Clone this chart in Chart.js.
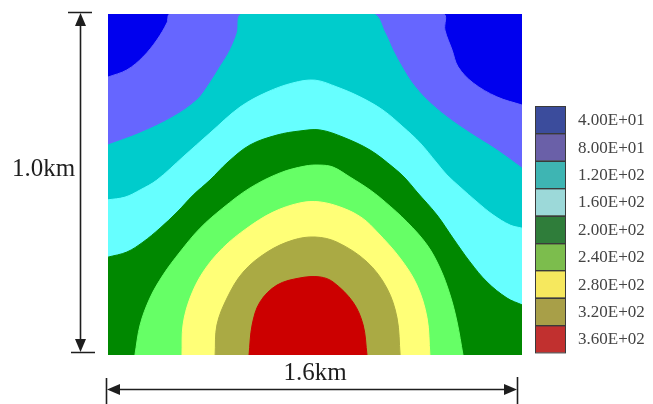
<!DOCTYPE html>
<html>
<head>
<meta charset="utf-8">
<title>Contour</title>
<script src="https://cdn.jsdelivr.net/npm/chart.js@4"></script>
<style>
  html, body { margin: 0; padding: 0; background: #fff; }
  #wrap { width: 653px; height: 404px; }
</style>
</head>
<body>
<div id="wrap"><canvas id="contour" width="653" height="404"></canvas></div>
<script>
// ===== Data (km) =====
// each contour boundary: points [x, y], region below the line has the next colour
const c80 = [[0,0.815],[0.073,0.836],[0.135,0.874],[0.189,0.924],[0.228,0.974],[0.240,1],[1.295,1],[1.302,0.953],[1.330,0.894],[1.353,0.845],[1.411,0.798],[1.503,0.757],[1.6,0.733]];
const c120 = [[0,0.616],[0.124,0.651],[0.251,0.698],[0.344,0.748],[0.394,0.798],[0.433,0.845],[0.472,0.894],[0.499,0.944],[0.518,1],[1.024,1],[1.071,0.944],[1.101,0.894],[1.136,0.845],[1.175,0.798],[1.233,0.748],[1.310,0.698],[1.399,0.651],[1.503,0.601],[1.6,0.548]];
const c160 = [[0,0.455],[0.066,0.463],[0.124,0.484],[0.189,0.513],[0.290,0.581],[0.394,0.651],[0.510,0.727],[0.615,0.771],[0.715,0.798],[0.800,0.806],[0.885,0.786],[0.974,0.757],[1.063,0.718],[1.140,0.669],[1.206,0.622],[1.271,0.563],[1.310,0.528],[1.360,0.493],[1.426,0.449],[1.488,0.411],[1.554,0.381],[1.6,0.372]];
const c200 = [[0,0.287],[0.073,0.302],[0.135,0.331],[0.201,0.372],[0.267,0.419],[0.329,0.469],[0.394,0.513],[0.464,0.566],[0.549,0.616],[0.653,0.645],[0.742,0.657],[0.819,0.660],[0.908,0.639],[1.013,0.601],[1.101,0.551],[1.148,0.519],[1.194,0.478],[1.271,0.411],[1.333,0.343],[1.399,0.273],[1.465,0.214],[1.542,0.167],[1.6,0.147]];
const c240 = [[0.104,0],[0.124,0.088],[0.162,0.167],[0.213,0.235],[0.278,0.302],[0.356,0.372],[0.444,0.431],[0.549,0.490],[0.665,0.534],[0.761,0.554],[0.819,0.557],[0.870,0.551],[0.935,0.522],[1.013,0.484],[1.071,0.449],[1.156,0.390],[1.233,0.323],[1.283,0.255],[1.322,0.176],[1.349,0.097],[1.372,0]];
const c280 = [[0.286,0],[0.290,0.088],[0.317,0.167],[0.367,0.243],[0.444,0.314],[0.537,0.372],[0.638,0.419],[0.742,0.446],[0.819,0.449],[0.908,0.431],[0.982,0.402],[1.040,0.361],[1.129,0.284],[1.194,0.205],[1.233,0.109],[1.244,0]];
const c320 = [[0.414,0],[0.421,0.088],[0.460,0.167],[0.522,0.243],[0.615,0.302],[0.715,0.337],[0.800,0.346],[0.885,0.331],[1.001,0.273],[1.078,0.196],[1.117,0.109],[1.129,0]];
const c360 = [[0.545,0],[0.557,0.088],[0.587,0.155],[0.653,0.205],[0.742,0.226],[0.819,0.229],[0.870,0.214],[0.947,0.155],[0.986,0.088],[1.001,0]];

const levelLabels = ['4.00E+01','8.00E+01','1.20E+02','1.60E+02','2.00E+02','2.40E+02','2.80E+02','3.20E+02','3.60E+02'];
const fieldColors = ['#0000ee','#6666ff','#00cccc','#66ffff','#008800','#66ff66','#ffff77','#aaaa44','#cc0000'];
const legendColors = ['#3b4c9c','#6a60a8','#3eb5b3','#9cd9d9','#2f7d3a','#7cbd4d','#f6e85e','#a89f48','#c1302f'];

const widthLabel = '1.6km';
const heightLabel = '1.0km';

// ===== Build datasets (red on top) =====
const boundaries = [c80, c120, c160, c200, c240, c280, c320, c360];
const datasets = boundaries.map((pts, i) => ({
  data: pts.map(([x, y]) => ({ x, y })),
  fill: 'origin',
  backgroundColor: fieldColors[i + 1],
  borderColor: fieldColors[i + 1],
  borderWidth: 1,
  pointRadius: 0,
  tension: 0.35,
  order: boundaries.length - i,
}));

// ===== Plugins =====
const areaBg = {
  id: 'areaBg',
  beforeDatasetsDraw(chart) {
    const { ctx, chartArea: a } = chart;
    ctx.save();
    ctx.fillStyle = fieldColors[0];
    ctx.fillRect(a.left, a.top, a.right - a.left, a.bottom - a.top);
    ctx.restore();
  },
};

function arrowHead(ctx, tx, ty, dx, dy) {
  // tip at (tx,ty), pointing in direction (dx,dy)
  const len = 13, half = 5.5;
  const bx = tx - dx * len, by = ty - dy * len;
  ctx.beginPath();
  ctx.moveTo(tx, ty);
  ctx.lineTo(bx - dy * half, by + dx * half);
  ctx.lineTo(bx + dy * half, by - dx * half);
  ctx.closePath();
  ctx.fill();
}

const annotations = {
  id: 'annotations',
  afterDraw(chart) {
    const { ctx } = chart;
    ctx.save();
    ctx.strokeStyle = '#1e1e1e';
    ctx.fillStyle = '#1e1e1e';
    ctx.lineWidth = 1.6;

    // vertical dimension
    ctx.beginPath();
    ctx.moveTo(80.5, 20); ctx.lineTo(80.5, 346);
    ctx.moveTo(68, 12.5); ctx.lineTo(92, 12.5);
    ctx.moveTo(71, 352.5); ctx.lineTo(95, 352.5);
    ctx.stroke();
    arrowHead(ctx, 80.5, 13, 0, -1);
    arrowHead(ctx, 80.5, 352, 0, 1);

    // horizontal dimension
    ctx.beginPath();
    ctx.moveTo(112, 389.5); ctx.lineTo(512, 389.5);
    ctx.moveTo(106.5, 378); ctx.lineTo(106.5, 404);
    ctx.moveTo(517.5, 377); ctx.lineTo(517.5, 404);
    ctx.stroke();
    arrowHead(ctx, 107, 389.5, -1, 0);
    arrowHead(ctx, 517, 389.5, 1, 0);

    ctx.font = '25px "Liberation Serif", "Times New Roman", serif';
    ctx.textBaseline = 'alphabetic';
    ctx.textAlign = 'left';
    ctx.fillText(heightLabel, 12, 176);
    ctx.textAlign = 'center';
    ctx.fillText(widthLabel, 315, 380);

    // legend
    const lx = 535, ly = 106, bw = 30, bh = 27.4;
    legendColors.forEach((c, i) => {
      const y = ly + i * bh;
      ctx.fillStyle = c;
      ctx.fillRect(lx, y, bw, bh);
    });
    ctx.strokeStyle = '#3a3a3a';
    ctx.lineWidth = 1;
    legendColors.forEach((c, i) => {
      ctx.strokeRect(lx + 0.5, Math.round(ly + i * bh) + 0.5, bw, bh);
    });
    ctx.fillStyle = '#444';
    ctx.font = '17px "Liberation Serif", "Times New Roman", serif';
    ctx.textAlign = 'left';
    ctx.textBaseline = 'middle';
    levelLabels.forEach((t, i) => {
      ctx.fillText(t, 578, ly + i * bh + bh / 2 + 1);
    });
    ctx.restore();
  },
};

// ===== Chart =====
new Chart(document.getElementById('contour'), {
  type: 'line',
  data: { datasets },
  options: {
    responsive: false,
    animation: false,
    events: [],
    layout: { padding: { left: 108, right: 131, top: 14, bottom: 49 } },
    plugins: { legend: { display: false }, tooltip: { enabled: false } },
    scales: {
      x: { type: 'linear', min: 0, max: 1.6, display: false },
      y: { type: 'linear', min: 0, max: 1.0, display: false },
    },
  },
  plugins: [areaBg, annotations],
});
</script>
</body>
</html>
